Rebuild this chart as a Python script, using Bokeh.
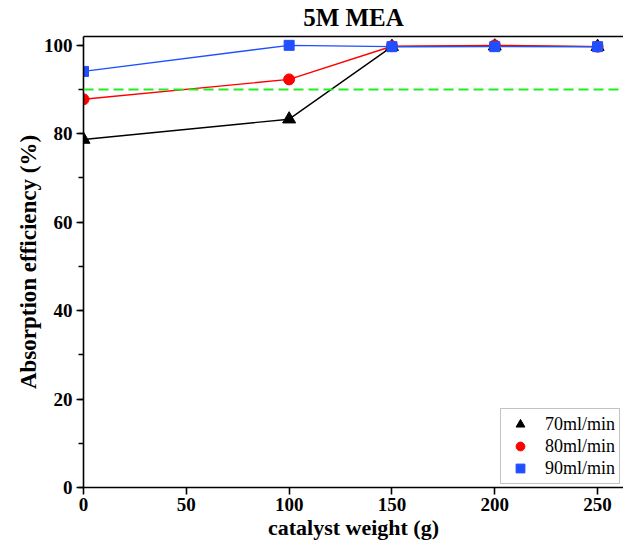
from bokeh.plotting import figure
from bokeh.models import (Range1d, SingleIntervalTicker, LinearAxis, Legend, LegendItem, Span)
from bokeh.embed import file_html
from bokeh.resources import INLINE

# ---- data ----
catalyst_weight = [0, 100, 150, 200, 250]
eff_70 = [78.7, 83.3, 99.7, 99.8, 99.7]
eff_80 = [87.8, 92.3, 99.8, 100.0, 99.7]
eff_90 = [94.1, 100.0, 99.7, 99.7, 99.7]
series_labels = ["70ml/min", "80ml/min", "90ml/min"]
target_line = 90
title_text = "5M MEA"
x_label = "catalyst weight (g)"
y_label = "Absorption efficiency (%)"

FONT = "Liberation Serif"

p = figure(width=623, height=542, output_backend="svg", toolbar_location=None,
           x_range=Range1d(0, 262.6), y_range=Range1d(0, 102),
           min_border_left=83, min_border_right=0, min_border_top=36,
           min_border_bottom=53, x_axis_type=None, y_axis_type=None)
p.outline_line_color = None
p.xgrid.visible = False
p.ygrid.visible = False
p.background_fill_color = "white"
p.border_fill_color = "white"

p.title.text = title_text
p.title.align = "center"
p.title.text_font = FONT
p.title.text_font_size = "25px"
p.title.text_font_style = "bold"
p.title.text_color = "black"
p.title.offset = 0
p.title.standoff = 0

xax = LinearAxis(ticker=SingleIntervalTicker(interval=50, num_minor_ticks=0))
yax = LinearAxis(ticker=SingleIntervalTicker(interval=20, num_minor_ticks=2))
topax = LinearAxis(ticker=SingleIntervalTicker(interval=50, num_minor_ticks=0))
for ax in (xax, yax):
    ax.axis_line_width = 1.6
    ax.axis_line_color = "black"
    ax.major_tick_line_width = 1.6
    ax.minor_tick_line_width = 1.6
    ax.major_tick_out = 7
    ax.major_tick_in = 0
    ax.minor_tick_out = 5
    ax.minor_tick_in = 0
    ax.major_label_text_font = FONT
    ax.major_label_text_font_style = "bold"
    ax.major_label_text_font_size = "19px"
    ax.major_label_text_color = "black"
    ax.axis_label_text_font = FONT
    ax.axis_label_text_font_style = "bold"
    ax.axis_label_text_color = "black"
xax.axis_label_text_font_size = "22px"
yax.axis_label_text_font_size = "23px"
xax.axis_label = x_label
yax.axis_label = y_label
xax.major_label_standoff = 3
xax.axis_label_standoff = 1
yax.major_label_standoff = 4
yax.axis_label_standoff = 0
topax.axis_line_width = 1.6
topax.major_tick_line_color = None
topax.minor_tick_line_color = None
topax.major_label_text_font_size = "0px"
topax.major_label_text_color = None
p.add_layout(xax, "below")
p.add_layout(yax, "left")
p.add_layout(topax, "above")

p.add_layout(Span(location=target_line, dimension="width", line_color="#22ee22",
                  line_width=2, line_dash="10 5"))

l1 = p.line(catalyst_weight, eff_70, line_color="black", line_width=1.4)
m1 = p.scatter(catalyst_weight, eff_70, marker="triangle", size=13, color="black")
l2 = p.line(catalyst_weight, eff_80, line_color="#ff0000", line_width=1.4)
m2 = p.scatter(catalyst_weight, eff_80, marker="circle", size=11, color="#ff0000")
l3 = p.line(catalyst_weight, eff_90, line_color="#1f4fff", line_width=1.4)
m3 = p.scatter(catalyst_weight, eff_90, marker="square", size=10, color="#1f4fff")

legend = Legend(items=[LegendItem(label=series_labels[0], renderers=[m1]),
                       LegendItem(label=series_labels[1], renderers=[m2]),
                       LegendItem(label=series_labels[2], renderers=[m3])],
                location=(417, 3))
legend.label_text_font = FONT
legend.label_text_font_size = "18px"
legend.label_text_color = "black"
legend.border_line_color = "#888888"
legend.border_line_width = 1
legend.padding = 4
legend.spacing = 0
legend.label_height = 22
legend.glyph_height = 22
legend.glyph_width = 30
legend.label_standoff = 10
legend.margin = 0
p.add_layout(legend, "center")

open("out.html", "w").write(file_html(p, INLINE))
